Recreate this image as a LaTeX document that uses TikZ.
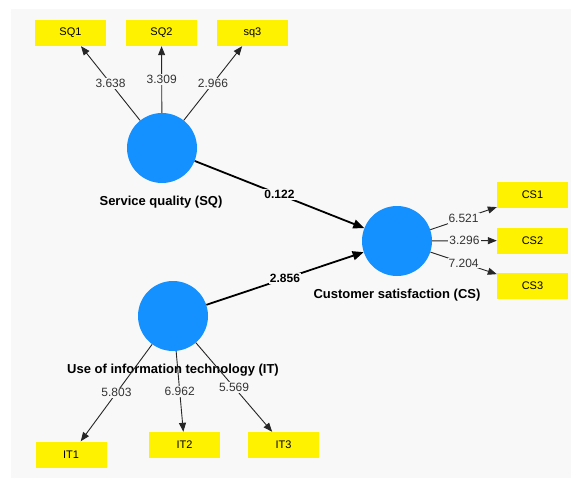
\documentclass[tikz,border=0pt]{standalone}
\usepackage{fontspec}
\setmainfont{Liberation Sans}
\usetikzlibrary{arrows.meta}
\definecolor{lvblue}{RGB}{20,144,255}
\definecolor{panel}{RGB}{248,248,248}
\begin{document}
\begin{tikzpicture}[x=1pt,y=-1pt,
  latent/.style={circle,fill=lvblue,minimum size=70pt,inner sep=0pt},
  indicator/.style={rectangle,fill=yellow,minimum width=71pt,minimum height=26pt,inner sep=0pt,font=\fontsize{11}{13}\selectfont},
  lvname/.style={font=\bfseries\fontsize{13}{15}\selectfont},
  loading/.style={draw=black!85,line width=0.9pt,-{Triangle[length=9pt,width=7pt]}},
  inner/.style={draw=black,line width=1.8pt,-{Triangle[length=11pt,width=9pt]}},
  weight/.style={fill=panel,inner sep=1pt,font=\fontsize{12}{14}\selectfont,text=black!80},
  innerweight/.style={weight,font=\bfseries\fontsize{12}{14}\selectfont,text=black}]
\useasboundingbox (0,0) rectangle (571,482);
\fill[panel] (11,9) rectangle (571,478);
% constructs
\node[latent] (SQ) at (162,148) {};
\node[latent] (CS) at (397,241) {};
\node[latent] (IT) at (173,316) {};
\node[lvname] (SQname) at (161,202) {Service quality (SQ)};
\node[lvname] (CSname) at (397,295) {Customer satisfaction (CS)};
\node[lvname] (ITname) at (173,370) {Use of information technology (IT)};
% indicators
\foreach\n/\x/\y in {SQ1/70.5/33,SQ2/161.5/33,sq3/252.5/33,CS1/532.5/195,CS2/532.5/240.5,CS3/532.5/286,IT1/71/454.5,IT2/184.5/445,IT3/283.5/445}
  \node[indicator] (\n) at (\x,\y) {\n};
% loadings
\foreach\a/\b/\t in {SQ/SQ1/3.638,SQ/SQ2/3.309,SQ/sq3/2.966,CS/CS1/6.521,CS/CS2/3.296,CS/CS3/7.204,IT/IT1/5.803,IT/IT2/6.962,IT/IT3/5.569}
  \draw[loading] (\a) -- node[weight]{\t} (\b);
% paths
\draw[inner] (SQ) -- node[innerweight]{0.122} (CS);
\draw[inner] (IT) -- node[innerweight]{2.856} (CS);
\end{tikzpicture}
\end{document}
